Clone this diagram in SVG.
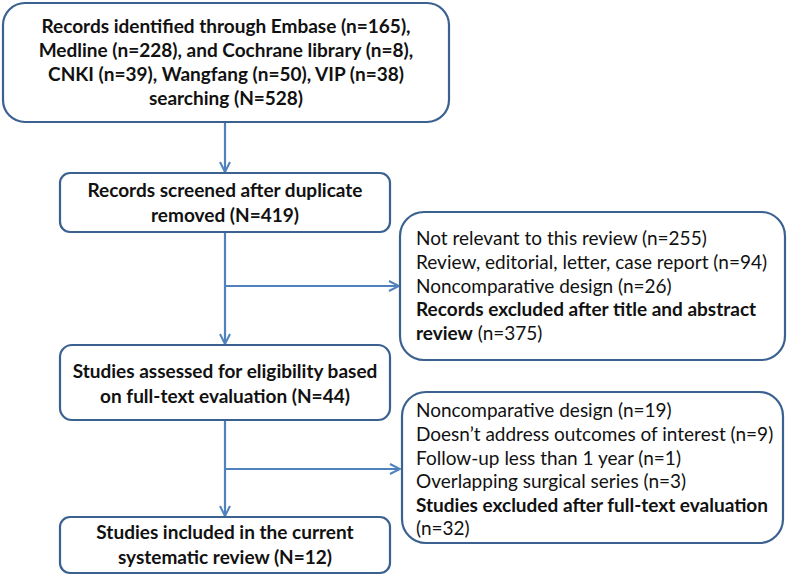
<svg xmlns="http://www.w3.org/2000/svg" width="788" height="577" viewBox="0 0 788 577">
<defs>
<style>
.box{fill:#fff;stroke:#3b6190;stroke-width:2.2}
.t{font-family:Lato,"Open Sans","Liberation Sans",sans-serif;font-size:19px;fill:#111}
.b{font-weight:bold}
.c{text-anchor:middle}
.ln{fill:none;stroke:#4f81bd;stroke-width:2.2}
</style>
<marker id="ah" viewBox="0 0 12 12" refX="11" refY="6" markerWidth="12" markerHeight="12" markerUnits="userSpaceOnUse" orient="auto">
<path d="M1,1 L11,6 L1,11" fill="none" stroke="#4f81bd" stroke-width="2"/>
</marker>
</defs>
<g id="connectors">
<line class="ln" x1="225" y1="122" x2="225" y2="172" marker-end="url(#ah)"/>
<line class="ln" x1="225" y1="232" x2="225" y2="344" marker-end="url(#ah)"/>
<line class="ln" x1="225" y1="286" x2="399" y2="286" marker-end="url(#ah)"/>
<line class="ln" x1="225" y1="420" x2="225" y2="516" marker-end="url(#ah)"/>
<line class="ln" x1="225" y1="469" x2="400" y2="469" marker-end="url(#ah)"/>
</g>
<g id="n1">
<rect class="box" x="3" y="3" width="446" height="119" rx="22"/>
<text class="t b c" x="226" y="33">Records identified through Embase (n=165),</text>
<text class="t b c" x="226" y="57">Medline (n=228), and Cochrane library (n=8),</text>
<text class="t b c" x="226" y="81">CNKI (n=39), Wangfang (n=50), VIP (n=38)</text>
<text class="t b c" x="226" y="105">searching (N=528)</text>
</g>
<g id="n2">
<rect class="box" x="60" y="173" width="330" height="59" rx="10"/>
<text class="t b c" x="225" y="197">Records screened after duplicate</text>
<text class="t b c" x="225" y="222">removed (N=419)</text>
</g>
<g id="n3">
<rect class="box" x="60" y="345" width="330" height="75" rx="12"/>
<text class="t b c" x="225" y="378">Studies assessed for eligibility based</text>
<text class="t b c" x="225" y="403">on full-text evaluation (N=44)</text>
</g>
<g id="n4">
<rect class="box" x="60" y="517" width="330" height="56" rx="10"/>
<text class="t b c" x="225" y="539">Studies included in the current</text>
<text class="t b c" x="225" y="564">systematic review (N=12)</text>
</g>
<g id="n5">
<rect class="box" x="400" y="212" width="385" height="148" rx="24"/>
<text class="t" x="416" y="245">Not relevant to this review (n=255)</text>
<text class="t" x="416" y="269">Review, editorial, letter, case report (n=94)</text>
<text class="t" x="416" y="293">Noncomparative design (n=26)</text>
<text class="t b" x="416" y="316">Records excluded after title and abstract</text>
<text class="t" x="416" y="340"><tspan class="b">review</tspan> (n=375)</text>
</g>
<g id="n6">
<rect class="box" x="402" y="392" width="381" height="151" rx="24"/>
<text class="t" x="416" y="417">Noncomparative design (n=19)</text>
<text class="t" x="416" y="441">Doesn’t address outcomes of interest (n=9)</text>
<text class="t" x="416" y="465">Follow-up less than 1 year (n=1)</text>
<text class="t" x="416" y="488">Overlapping surgical series (n=3)</text>
<text class="t b" x="416" y="512">Studies excluded after full-text evaluation</text>
<text class="t" x="416" y="535">(n=32)</text>
</g>
</svg>
